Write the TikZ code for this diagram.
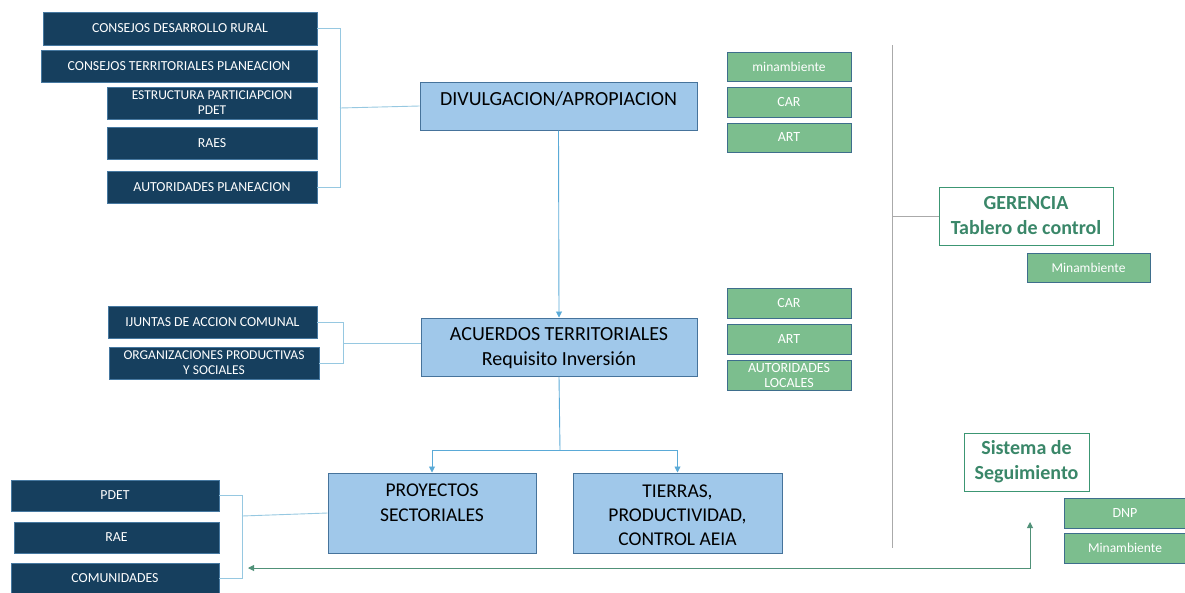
\documentclass[tikz,border=0pt]{standalone}
\usepackage{fontspec}
\setmainfont{Carlito}
\usetikzlibrary{arrows.meta}
\definecolor{navy}{RGB}{22,63,94}
\definecolor{navyedge}{RGB}{70,120,160}
\definecolor{gfill}{RGB}{124,190,142}
\definecolor{gedge}{RGB}{62,110,140}
\definecolor{bfill}{RGB}{160,200,234}
\definecolor{bedge}{RGB}{70,115,155}
\definecolor{teal}{RGB}{60,150,115}
\definecolor{tealtext}{RGB}{58,135,105}
\definecolor{brk}{RGB}{150,200,225}
\definecolor{arr}{RGB}{90,170,215}
\definecolor{sep}{RGB}{170,170,170}
\definecolor{gline}{RGB}{80,145,120}
\tikzset{
  wh/.style 2 args={minimum width=#1pt, minimum height=#2pt},
  darkbox/.style={draw=navyedge, line width=0.8pt, fill=navy, text=white, inner sep=1pt,
    font=\fontsize{13.8}{14}\selectfont, align=center},
  greenbox/.style={draw=gedge, line width=1pt, fill=gfill, text=white, inner sep=1pt,
    font=\fontsize{14}{14}\selectfont, align=center},
  bluebox/.style={draw=bedge, line width=1pt, fill=bfill, text=black, inner sep=0pt,
    font=\fontsize{20}{24}\selectfont, align=center},
  btext/.style={font=\fontsize{20}{25}\selectfont, align=center, inner sep=0pt},
  whitebox/.style={draw=teal, line width=1pt, fill=white, text=tealtext, inner sep=1pt,
    font=\fontsize{20}{25}\selectfont\bfseries, align=center},
  bracket/.style={draw=brk, line width=0.9pt},
  flow/.style={draw=arr, line width=0.9pt, -{Triangle[length=6pt,width=6pt]}},
}
\begin{document}
\begin{tikzpicture}[x=1pt,y=-1pt]
\useasboundingbox (0,0) rectangle (1185,592);
% left top dark boxes
\node[darkbox, wh={274}{33}] (cdr) at (180,28.5) {CONSEJOS DESARROLLO RURAL};
\node[darkbox, wh={276}{32}] (ctp) at (179,66) {CONSEJOS TERRITORIALES PLANEACION};
\node[darkbox, wh={210}{32}, font=\fontsize{13.5}{15}\selectfont] (epp) at (212,103) {ESTRUCTURA PARTICIAPCION\\PDET};
\node[darkbox, wh={210}{32}] (raes) at (212,143) {RAES};
\node[darkbox, wh={210}{32}] (autp) at (212,187) {AUTORIDADES PLANEACION};
% divulgacion
\node[bluebox, wh={277}{48}] (div) at (558.5,106) {};
\node[btext] (divt) at (558.5,99) {DIVULGACION/APROPIACION};
\coordinate (b1) at (340,108);
\draw[bracket] (cdr.east) -- (340,28.5) -- (340,187) -- (autp.east);
\draw[bracket] (b1) -- (div.west);
% green boxes top
\node[greenbox, wh={124}{29}, font=\fontsize{13.5}{14}\selectfont] (g1) at (789,66.5) {minambiente};
\node[greenbox, wh={124}{30}] (g2) at (789,102) {CAR};
\node[greenbox, wh={124}{29}] (g3) at (789,137.5) {ART};
% acuerdos
\node[bluebox, wh={276}{58}] (acu) at (559,347) {};
\node[btext] (acut) at (559,348) {ACUERDOS TERRITORIALES\\Requisito Inversión};
\draw[flow] (div.south) -- (acu.north);
% left mid dark boxes
\node[darkbox, wh={209}{32}] (ijac) at (212.5,322) {IJUNTAS DE ACCION COMUNAL};
\node[darkbox, wh={210}{32}, font=\fontsize{13.5}{15}\selectfont] (orgp) at (214,363) {ORGANIZACIONES PRODUCTIVAS\\Y SOCIALES};
\coordinate (b2) at (343,343);
\draw[bracket] (ijac.east) -- (343,322) -- (343,363) -- (orgp.east);
\draw[bracket] (b2) -- (b2 -| acu.west);
% green mid
\node[greenbox, wh={124}{30}] (g4) at (789,303) {CAR};
\node[greenbox, wh={124}{30}] (g5) at (789,339) {ART};
\node[greenbox, wh={124}{30}, font=\fontsize{14}{15}\selectfont] (g6) at (789,375) {AUTORIDADES\\LOCALES};
% bottom blue boxes
\node[bluebox, wh={208}{80}] (pro) at (432,513) {};
\node[btext, font=\fontsize{19.5}{25}\selectfont, anchor=north] (prot) at (432,484) {PROYECTOS\\SECTORIALES};
\node[bluebox, wh={209}{80}] (tie) at (677.5,513) {};
\node[btext, font=\fontsize{19.5}{24}\selectfont] (tiet) at (677.5,515) {TIERRAS,\\PRODUCTIVIDAD,\\CONTROL AEIA};
\coordinate (split) at (560,450);
\draw[draw=arr, line width=0.9pt] (acu.south) -- (split);
\draw[flow] (split) -| (pro.north);
\draw[flow] (split) -| (tie.north);
% left bottom dark boxes
\node[darkbox, wh={208}{31}] (pdet) at (115,495.5) {PDET};
\node[darkbox, wh={205}{31}] (rae) at (116.5,537.5) {RAE};
\node[darkbox, wh={208}{31}] (com) at (115,578.5) {COMUNIDADES};
\coordinate (b3) at (242,516);
\draw[bracket] (pdet.east) -- (242,495.5) -- (242,578.5) -- (com.east);
\draw[bracket] (b3) -- (pro.west);
% separator
\coordinate (s1) at (892,45);
\coordinate (s2) at (892,548);
\coordinate (s3) at (892,216);
\draw[draw=sep, line width=1pt] (s1) -- (s2);
% gerencia
\node[whitebox, wh={174}{58}] (ger) at (1026,216) {GERENCIA\\Tablero de control};
\draw[draw=sep, line width=1pt] (s3) -- (ger.west);
\node[greenbox, wh={123}{29}, font=\fontsize{13.5}{14}\selectfont] (g7) at (1088.5,267.5) {Minambiente};
% sistema
\node[whitebox, wh={125}{58}] (sis) at (1026.5,462) {Sistema de\\Seguimiento};
\node[greenbox, wh={122}{30}] (dnp) at (1125,513) {DNP};
\node[greenbox, wh={122}{30}, font=\fontsize{13.5}{14}\selectfont] (g8) at (1125,548) {Minambiente};
\coordinate (fb1) at (1030,522);
\coordinate (fb2) at (248,568);
\draw[draw=gline, line width=0.9pt, {Triangle[length=6pt,width=6pt]}-{Triangle[length=6pt,width=6pt]}] (fb1) |- (fb2);
\end{tikzpicture}
\end{document}
